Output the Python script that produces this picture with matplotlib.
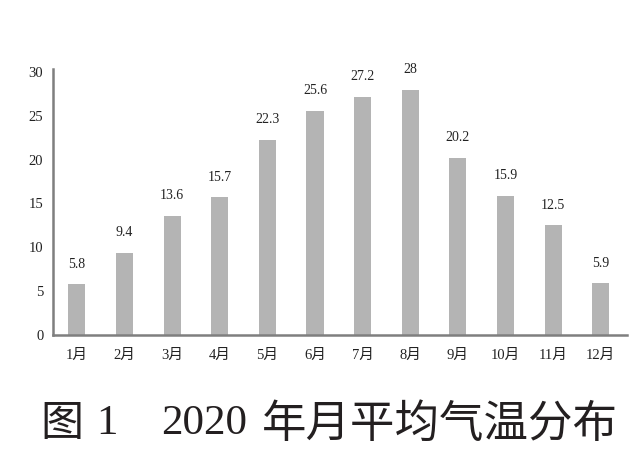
import matplotlib.pyplot as plt
import numpy as np

months = ["1月", "2月", "3月", "4月", "5月", "6月", "7月", "8月", "9月", "10月", "11月", "12月"]
temps = [5.8, 9.4, 13.6, 15.7, 22.3, 25.6, 27.2, 28, 20.2, 15.9, 12.5, 5.9]
yticks = [0, 5, 10, 15, 20, 25, 30]

fonts = ["Liberation Serif", "Noto Sans CJK SC"]
plt.rcParams["font.family"] = fonts

fig = plt.figure(figsize=(6.44, 4.72), dpi=100)
ax = fig.add_axes([0.0823, 0.2903, 0.8913, 0.5627])

x = np.arange(len(months))
ax.bar(x, temps, width=0.36, color="#b4b4b4")

# value labels above each bar
for xi, t in zip(x, temps):
    ax.text(xi, t + 1.55, f"{t:g}", ha="center", va="bottom", fontsize=10, color="#222222")

ax.set_xlim(-0.5, 11.55)
ax.set_ylim(0, 30.3)
ax.set_yticks(yticks)
ax.set_xticks(x)
ax.set_xticklabels(months)
ax.tick_params(axis="both", length=0, labelsize=10.5, colors="#222222")
ax.tick_params(axis="y", pad=7)
ax.tick_params(axis="x", pad=10)

for side in ["top", "right"]:
    ax.spines[side].set_visible(False)
for side in ["left", "bottom"]:
    ax.spines[side].set_color("#7f7f7f")
    ax.spines[side].set_linewidth(1.8)

# caption, split so the pieces sit where they do in the figure
cy = 1 - 424 / 472
fig.text(40 / 644, cy, "图", ha="left", va="center", fontsize=31, color="#231f20",
         family="Noto Sans CJK SC")
fig.text(96 / 644, cy, "1", ha="left", va="center", fontsize=31, color="#231f20",
         family="Liberation Serif")
fig.text(161 / 644, cy, "2020", ha="left", va="center", fontsize=31, color="#231f20",
         family="Liberation Serif")
fig.text(262 / 644, cy, "年月平均气温分布", ha="left", va="center", fontsize=32, color="#231f20",
         family="Noto Sans CJK SC")

fig.savefig("out.png", dpi=100)
